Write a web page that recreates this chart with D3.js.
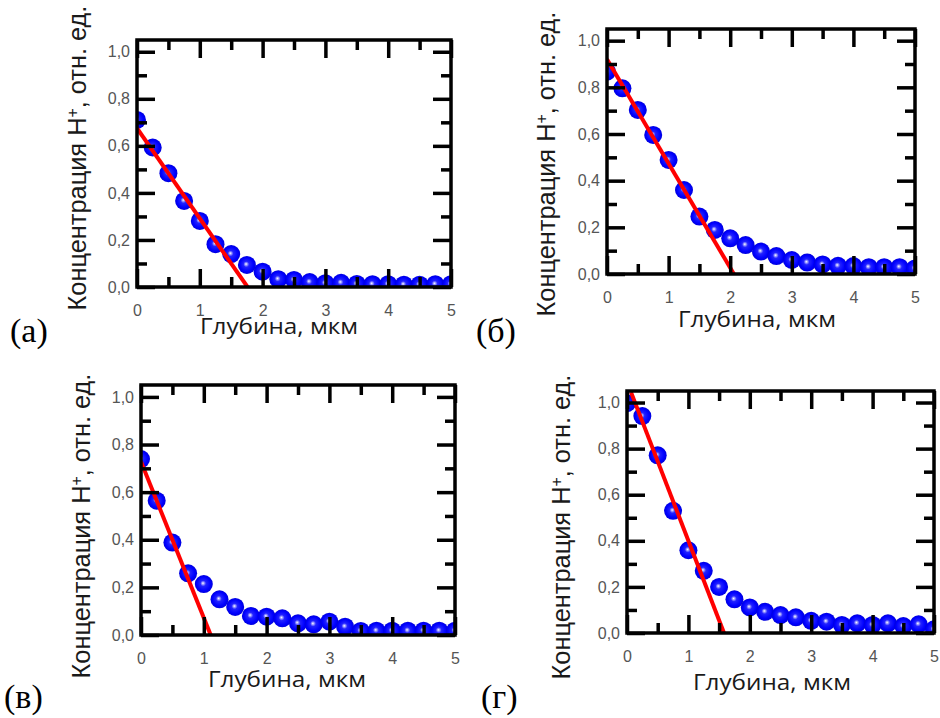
<!DOCTYPE html>
<html>
<head>
<meta charset="utf-8">
<script src="https://cdn.jsdelivr.net/npm/d3@7/dist/d3.min.js"></script>
<style>
  html, body { margin: 0; padding: 0; background: #fff; }
  svg { display: block; }
</style>
</head>
<body>
<svg id="chart" width="940" height="718"></svg>
<script>
// ---------- DATA ----------
const depth = [0, 0.25, 0.5, 0.75, 1, 1.25, 1.5, 1.75, 2, 2.25, 2.5, 2.75, 3, 3.25, 3.5, 3.75, 4, 4.25, 4.5, 4.75, 5];

const concA = [0.71, 0.593, 0.484, 0.366, 0.281, 0.182, 0.14, 0.094, 0.065, 0.033, 0.03, 0.021, 0.016, 0.018, 0.013, 0.012, 0.012, 0.01, 0.01, 0.012, 0.012];
const concB = [0.867, 0.796, 0.703, 0.596, 0.489, 0.36, 0.246, 0.189, 0.153, 0.124, 0.096, 0.077, 0.06, 0.049, 0.041, 0.035, 0.034, 0.029, 0.029, 0.029, 0.024];
const concV = [0.739, 0.564, 0.388, 0.259, 0.214, 0.15, 0.118, 0.08, 0.077, 0.07, 0.049, 0.045, 0.056, 0.035, 0.017, 0.018, 0.018, 0.018, 0.018, 0.018, 0.018];
const concG = [0.997, 0.941, 0.771, 0.53, 0.359, 0.27, 0.2, 0.146, 0.111, 0.092, 0.078, 0.068, 0.053, 0.049, 0.035, 0.042, 0.035, 0.042, 0.03, 0.038, 0.016];

// linear fit lines (endpoints: depth, concentration)
const fitA_x = [0, 1.76],     fitA_y = [0.675, 0];
const fitB_x = [0, 2.06],     fitB_y = [0.92, 0];
const fitV_x = [0, 1.11],     fitV_y = [0.728, 0];
const fitG_x = [0.065, 1.58], fitG_y = [1.045, 0];

const panelLabels = ["(а)", "(б)", "(в)", "(г)"];
const xTicks = [0, 1, 2, 3, 4, 5];
const xMinorTicks = [0.5, 1.5, 2.5, 3.5, 4.5];
const yTicks = [0, 0.2, 0.4, 0.6, 0.8, 1.0];
const yMinorTicks = [0.1, 0.3, 0.5, 0.7, 0.9];
const xTitle = "Глубина, мкм";
const yTitleMain = "Концентрация H";
const yTitleSup = "+";
const yTitleRest = ", отн. ед.";

// ---------- LAYOUT (positions only) ----------
const layouts = [
  { L: 137, T: 40,  R: 451, B: 287, ytx: 86,  yty: 158, xtx: 279, xty: 334, lx: 10,  ly: 342 },
  { L: 607, T: 29,  R: 915, B: 274, ytx: 555, yty: 164, xtx: 757, xty: 327, lx: 476, ly: 342 },
  { L: 141, T: 385, R: 455, B: 635, ytx: 90,  yty: 526, xtx: 287, xty: 687, lx: 4,   ly: 708 },
  { L: 627, T: 391, R: 934, B: 633, ytx: 570, yty: 527, xtx: 772, xty: 690, lx: 481, ly: 708 }
];
const X_TITLE_W = 158, X_TITLE_CAP = 15.5;
const Y_TITLE_LEN = 305, Y_TITLE_CAP = 19;

const series = [
  { conc: concA, fx: fitA_x, fy: fitA_y },
  { conc: concB, fx: fitB_x, fy: fitB_y },
  { conc: concV, fx: fitV_x, fy: fitV_y },
  { conc: concG, fx: fitG_x, fy: fitG_y }
];

const locale = d3.formatLocale({ decimal: ",", thousands: " ", grouping: [3], currency: ["", ""] });
const fmtY = locale.format(".1f");
const fmtX = locale.format("d");

const svg = d3.select("#chart");
const defs = svg.append("defs");

const grad = defs.append("radialGradient")
  .attr("id", "sphere").attr("cx", "50%").attr("cy", "50%").attr("r", "50%")
  .attr("fx", "45%").attr("fy", "45%");
grad.append("stop").attr("offset", "0%").attr("stop-color", "#ffffff");
grad.append("stop").attr("offset", "12%").attr("stop-color", "#a8a8ff");
grad.append("stop").attr("offset", "32%").attr("stop-color", "#2222ff");
grad.append("stop").attr("offset", "75%").attr("stop-color", "#0000ff");
grad.append("stop").attr("offset", "100%").attr("stop-color", "#0000dd");

const MAJ = 18, MIN = 10, TW = 3.5;

layouts.forEach((lay, i) => {
  const s = series[i];
  const w = lay.R - lay.L, h = lay.B - lay.T;
  const x = d3.scaleLinear().domain([0, 5]).range([0, w]);
  const y = d3.scaleLinear().domain([0, 1.05]).range([h, 0]);

  const g = svg.append("g").attr("transform", `translate(${lay.L},${lay.T})`);

  defs.append("clipPath").attr("id", "clip" + i)
    .append("rect").attr("x", 0).attr("y", 0).attr("width", w).attr("height", h);

  const plot = g.append("g").attr("clip-path", `url(#clip${i})`);

  plot.selectAll("circle").data(depth.map((d, k) => [d, s.conc[k]]))
    .join("circle")
    .attr("cx", d => x(d[0]))
    .attr("cy", d => y(d[1]))
    .attr("r", 9)
    .attr("fill", "url(#sphere)");

  plot.append("path")
    .datum(s.fx.map((d, k) => [d, s.fy[k]]))
    .attr("d", d3.line().x(d => x(d[0])).y(d => y(d[1])))
    .attr("fill", "none")
    .attr("stroke", "#ff0000")
    .attr("stroke-width", 4);

  function styleAxis(sel) {
    sel.select(".domain").remove();
    sel.selectAll(".tick line").attr("stroke", "#000").attr("stroke-width", TW);
    sel.selectAll(".tick text").attr("fill", "#555")
      .style("font-family", "'Liberation Sans', Arial, sans-serif").style("font-size", "16px");
  }
  g.append("g").call(d3.axisLeft(y).tickValues(yTicks).tickSize(-MAJ).tickPadding(7).tickFormat(fmtY)).call(styleAxis);
  g.append("g").call(d3.axisLeft(y).tickValues(yMinorTicks).tickSize(-MIN).tickFormat("")).call(styleAxis);
  g.append("g").attr("transform", `translate(${w},0)`)
    .call(d3.axisRight(y).tickValues(yTicks).tickSize(-MAJ).tickFormat("")).call(styleAxis);
  g.append("g").attr("transform", `translate(${w},0)`)
    .call(d3.axisRight(y).tickValues(yMinorTicks).tickSize(-MIN).tickFormat("")).call(styleAxis);
  g.append("g").attr("transform", `translate(0,${h})`)
    .call(d3.axisBottom(x).tickValues(xTicks).tickSize(-MAJ).tickPadding(18).tickFormat(fmtX)).call(styleAxis);
  g.append("g").attr("transform", `translate(0,${h})`)
    .call(d3.axisBottom(x).tickValues(xMinorTicks).tickSize(-MIN).tickFormat("")).call(styleAxis);
  g.append("g")
    .call(d3.axisTop(x).tickValues(xTicks).tickSize(-MAJ).tickFormat("")).call(styleAxis);
  g.append("g")
    .call(d3.axisTop(x).tickValues(xMinorTicks).tickSize(-MIN).tickFormat("")).call(styleAxis);

  g.append("rect").attr("x", 0).attr("y", 0).attr("width", w).attr("height", h)
    .attr("fill", "none").attr("stroke", "#000").attr("stroke-width", TW);

  // x title (Open Sans, fitted to reference width)
  const xfs = X_TITLE_CAP / 0.714;
  const xt = svg.append("text")
    .attr("text-anchor", "middle")
    .style("font-family", "'Open Sans', sans-serif").style("font-size", xfs + "px").attr("fill", "#1a1a1a")
    .text(xTitle);
  const xw = xt.node().getComputedTextLength();
  xt.attr("transform", `translate(${lay.xtx},${lay.xty}) scale(${X_TITLE_W / xw},1)`);

  // y title (Liberation Sans, fitted to reference length)
  const yt = svg.append("text")
    .attr("text-anchor", "middle")
    .style("font-family", "'Liberation Sans', Arial, sans-serif").style("font-size", "25px").attr("fill", "#1a1a1a");
  yt.append("tspan").text(yTitleMain);
  yt.append("tspan").attr("dy", "-0.5em").style("font-size", "0.62em").text(yTitleSup);
  yt.append("tspan").attr("dy", "0.31em").text(yTitleRest);
  const yl = yt.node().getComputedTextLength();
  const yfs = 25 * Y_TITLE_LEN / yl;
  yt.style("font-size", yfs + "px");
  const sy = Y_TITLE_CAP / (0.716 * yfs);
  yt.attr("transform", `translate(${lay.ytx},${lay.yty}) rotate(-90) scale(1,${sy})`);

  svg.append("text")
    .attr("x", lay.lx).attr("y", lay.ly)
    .style("font-family", "'Liberation Serif', 'Times New Roman', serif").style("font-size", "34px").attr("fill", "#000")
    .text(panelLabels[i]);
});
</script>
</body>
</html>
